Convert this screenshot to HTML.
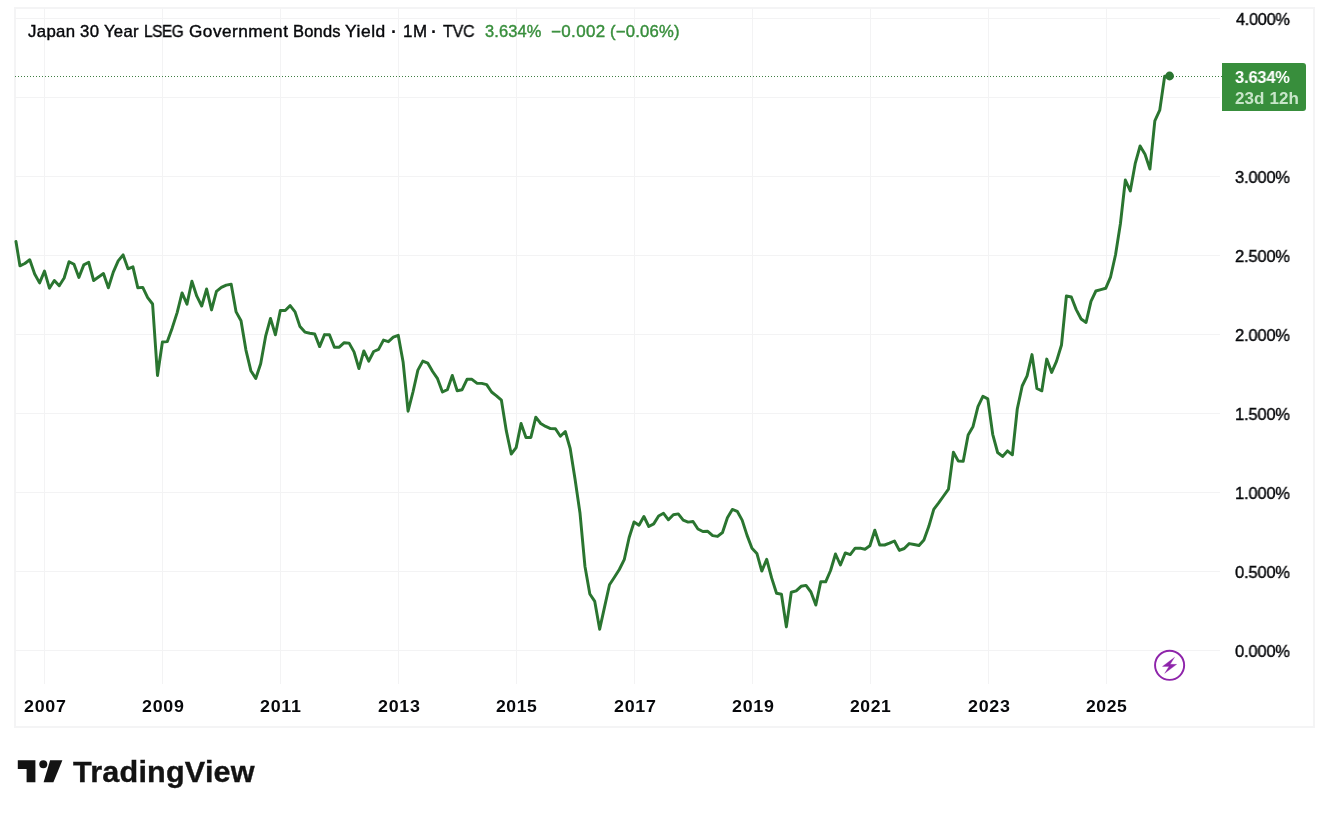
<!DOCTYPE html>
<html><head><meta charset="utf-8"><title>Japan 30 Year LSEG Government Bonds Yield</title>
<style>
html,body{margin:0;padding:0;background:#fff;}
body{width:1329px;height:817px;position:relative;overflow:hidden;font-family:"Liberation Sans",sans-serif;color:#131722;}
#frame{position:absolute;left:14px;top:7px;width:1297px;height:717px;border:2px solid #f4f4f5;}
svg{position:absolute;left:0;top:0;}
.t{position:absolute;white-space:nowrap;transform-origin:0 0;will-change:transform;}
#tag{position:absolute;left:1222px;top:63px;width:84px;height:48px;background:#388e3c;border-radius:0 3px 3px 0;}
</style></head><body>
<div id="frame"></div>
<svg width="1329" height="817" viewBox="0 0 1329 817">
<g stroke="#f3f3f4" stroke-width="1" shape-rendering="crispEdges"><line x1="44.5" y1="8" x2="44.5" y2="684"/><line x1="162.5" y1="8" x2="162.5" y2="684"/><line x1="280.5" y1="8" x2="280.5" y2="684"/><line x1="398.5" y1="8" x2="398.5" y2="684"/><line x1="516.5" y1="8" x2="516.5" y2="684"/><line x1="634.5" y1="8" x2="634.5" y2="684"/><line x1="752.5" y1="8" x2="752.5" y2="684"/><line x1="870.5" y1="8" x2="870.5" y2="684"/><line x1="988.5" y1="8" x2="988.5" y2="684"/><line x1="1106.5" y1="8" x2="1106.5" y2="684"/><line x1="15" y1="650.5" x2="1220" y2="650.5"/><line x1="15" y1="571.5" x2="1220" y2="571.5"/><line x1="15" y1="492.5" x2="1220" y2="492.5"/><line x1="15" y1="413.5" x2="1220" y2="413.5"/><line x1="15" y1="334.5" x2="1220" y2="334.5"/><line x1="15" y1="255.5" x2="1220" y2="255.5"/><line x1="15" y1="176.5" x2="1220" y2="176.5"/><line x1="15" y1="97.5" x2="1220" y2="97.5"/><line x1="15" y1="18.5" x2="1220" y2="18.5"/></g>
<line x1="15" y1="76.5" x2="1222" y2="76.5" stroke="#3f7f43" stroke-width="1" stroke-dasharray="1 2" shape-rendering="crispEdges"/>
<polyline fill="none" stroke="#2a7530" stroke-width="2.95" stroke-linejoin="round" stroke-linecap="round" points="15.95,241.4 19.93,265.8 24.85,263.5 29.76,259.8 34.67,274 39.59,282.9 44.5,271.1 49.41,288.2 54.33,280.5 59.24,285.8 64.15,278 69.06,261.7 73.98,264.3 78.89,277.4 83.8,264.9 88.72,262.3 93.63,280.5 98.54,277 103.46,273.5 108.37,287.8 113.28,272.1 118.2,260.9 123.11,254.9 128.02,268.8 132.93,266.8 137.85,287.8 142.76,287.4 147.67,297.6 152.59,304 157.5,375.5 162.41,342 167.32,341.6 172.24,327.9 177.15,312.6 182.06,292.9 186.98,304.1 191.89,281.2 196.8,296.2 201.72,306 206.63,289 211.54,309.9 216.46,291.3 221.37,287.4 226.28,285.1 231.19,284.3 236.11,311.9 241.02,320.7 245.93,350.1 250.85,370.7 255.76,378.5 260.67,363.8 265.59,336.4 270.5,318.4 275.41,334.8 280.32,310.5 285.24,310.5 290.15,305.6 295.06,311.9 299.98,326.6 304.89,332.1 309.8,333.2 314.72,334 319.63,346.6 324.54,334.6 329.45,334.7 334.37,347.2 339.28,347.2 344.19,342.7 349.11,343.1 354.02,351.9 358.93,368.5 363.85,350.9 368.76,361.1 373.67,351.5 378.58,349.4 383.5,340.1 388.41,341.7 393.32,337.2 398.24,335.3 403.15,362.3 408.06,411.2 412.98,392 417.89,370.1 422.8,361.1 427.71,363.1 432.63,371.5 437.54,378.7 442.45,392 447.37,389.7 452.28,375.4 457.19,390.7 462.11,389.7 467.02,379.3 471.93,379.3 476.84,383.2 481.76,383.4 486.67,384.6 491.58,392 496.5,395.8 501.41,400.2 506.32,430.9 511.24,454 516.15,447.6 521.06,423.5 525.97,437.4 530.89,437.4 535.8,417.2 540.71,423.5 545.63,426.4 550.54,428.6 555.45,428.8 560.37,436.2 565.28,431.5 570.19,448.5 575.1,479.4 580.02,513.3 584.93,566.2 589.84,594 594.76,601.4 599.67,629.2 604.58,606.9 609.5,584.8 614.41,577.3 619.32,569.5 624.23,559.7 629.15,537.5 634.06,522 638.97,525.2 643.89,516.5 648.8,526.5 653.71,523.9 658.62,516 663.54,513.3 668.45,519.8 673.36,514.7 678.28,513.9 683.19,520.1 688.1,522.1 693.02,521.5 697.93,529 702.84,531.5 707.75,531.3 712.67,535.6 717.58,536.4 722.49,532.5 727.41,517.7 732.32,509.4 737.23,511.3 742.15,520.1 747.06,535.4 751.97,548.2 756.88,553.4 761.8,571.1 766.71,559.3 771.62,577.9 776.54,593.2 781.45,594.2 786.36,626.9 791.28,592.2 796.19,590.9 801.1,586.3 806.01,585.4 810.93,592 815.84,605 820.75,581.8 825.67,581.8 830.58,570.5 835.49,554 840.41,565 845.32,552.9 850.23,554.6 855.15,548.2 860.06,548.1 864.97,549.3 869.88,545.8 874.8,530.2 879.71,545 884.62,545 889.54,543.2 894.45,541 899.36,550.4 904.28,548.5 909.19,543.6 914.1,544.5 919.01,545.5 923.93,540 928.84,526.3 933.75,509.3 938.67,502.8 943.58,496 948.49,489.1 953.41,452.3 958.32,461.1 963.23,461.3 968.14,434.9 973.06,426.4 977.97,406.7 982.88,396.3 987.8,398.9 992.71,434.3 997.62,452.5 1002.54,456.4 1007.45,450.9 1012.36,454.8 1017.27,409 1022.19,386 1027.1,375.8 1032.01,354.6 1036.93,388.5 1041.84,390.8 1046.75,359.1 1051.66,372.4 1056.58,361.1 1061.49,345 1066.4,296 1071.32,297 1076.23,309.6 1081.14,319 1086.06,322.5 1090.97,301.3 1095.88,291 1100.8,289.6 1105.71,288.3 1110.62,276.8 1115.53,254.7 1120.45,223.5 1125.36,180 1130.27,190.9 1135.19,163.7 1140.1,146 1145.01,154.2 1149.92,169 1154.84,120.8 1159.75,110.2 1164.66,76.2 1169.58,76.5"/>
<circle cx="1169.58" cy="76.0" r="4.4" fill="#2a7530"/>
<circle cx="1169.6" cy="665.3" r="14.55" fill="#fff" stroke="#8e24aa" stroke-width="1.95"/>
<polygon fill="#8e24aa" stroke="#8e24aa" stroke-width="0.3" stroke-linejoin="round" points="1174.56,657.32 1162.44,666.44 1168.99,666.44 1164.71,673.35 1176.7,664.36 1170.21,664.36"/>
<g fill="#131313"><polygon points="17.8,760.3 35.4,760.3 35.4,782.2 26.6,782.2 26.6,768.9 17.8,768.9"/><circle cx="43.3" cy="764.2" r="4"/><polygon points="50.1,760.3 62.4,760.3 53.4,782.2 43.6,782.2"/></g>
</svg>
<div id="tag"></div>
<div class="t" style="left:27.60px;top:21.00px;font-size:16.2px;line-height:20px;letter-spacing:0.315px;transform:scaleX(1.0371);color:#07080b;-webkit-text-stroke:0.4px #07080b;">Japan</div>
<div class="t" style="left:79.67px;top:21.00px;font-size:16.2px;line-height:20px;letter-spacing:0.435px;transform:scaleX(1.0344);color:#07080b;-webkit-text-stroke:0.4px #07080b;">30</div>
<div class="t" style="left:104.47px;top:21.00px;font-size:16.2px;line-height:20px;letter-spacing:0.248px;transform:scaleX(1.0302);color:#07080b;-webkit-text-stroke:0.4px #07080b;">Year</div>
<div class="t" style="left:144.35px;top:21.00px;font-size:16.2px;line-height:20px;letter-spacing:-0.534px;transform:scaleX(0.9544);color:#07080b;-webkit-text-stroke:0.4px #07080b;">LSEG</div>
<div class="t" style="left:188.64px;top:21.00px;font-size:16.2px;line-height:20px;letter-spacing:0.462px;transform:scaleX(1.0612);color:#07080b;-webkit-text-stroke:0.4px #07080b;">Government</div>
<div class="t" style="left:293.28px;top:21.00px;font-size:16.2px;line-height:20px;letter-spacing:0.176px;transform:scaleX(1.0200);color:#07080b;-webkit-text-stroke:0.4px #07080b;">Bonds</div>
<div class="t" style="left:345.12px;top:21.00px;font-size:16.2px;line-height:20px;letter-spacing:0.501px;transform:scaleX(1.0776);color:#07080b;-webkit-text-stroke:0.4px #07080b;">Yield</div>
<div class="t" style="left:402.86px;top:21.00px;font-size:16.2px;line-height:20px;letter-spacing:0.690px;transform:scaleX(1.0440);color:#07080b;-webkit-text-stroke:0.4px #07080b;">1M</div>
<div class="t" style="left:442.90px;top:21.00px;font-size:16.2px;line-height:20px;letter-spacing:-0.183px;transform:scaleX(0.9862);color:#07080b;-webkit-text-stroke:0.4px #07080b;">TVC</div>
<div class="t" style="left:484.78px;top:21.00px;font-size:16.2px;line-height:20px;letter-spacing:0.133px;transform:scaleX(1.0156);color:#388e3c;-webkit-text-stroke:0.4px #388e3c;">3.634%</div>
<div class="t" style="left:550.95px;top:21.00px;font-size:16.2px;line-height:20px;letter-spacing:0.352px;transform:scaleX(1.0470);color:#388e3c;-webkit-text-stroke:0.4px #388e3c;">−0.002</div>
<div class="t" style="left:610.37px;top:21.00px;font-size:16.2px;line-height:20px;letter-spacing:0.212px;transform:scaleX(1.0292);color:#388e3c;-webkit-text-stroke:0.4px #388e3c;">(−0.06%)</div>
<div class="t" style="left:24.02px;top:697.00px;font-size:16.6px;line-height:20px;letter-spacing:0.670px;transform:scaleX(1.0754);color:#07080b;font-weight:bold;">2007</div>
<div class="t" style="left:142.01px;top:697.00px;font-size:16.6px;line-height:20px;letter-spacing:0.670px;transform:scaleX(1.0754);color:#07080b;font-weight:bold;">2009</div>
<div class="t" style="left:260.00px;top:697.00px;font-size:16.6px;line-height:20px;letter-spacing:0.670px;transform:scaleX(1.0754);color:#07080b;font-weight:bold;">2011</div>
<div class="t" style="left:377.99px;top:697.00px;font-size:16.6px;line-height:20px;letter-spacing:0.670px;transform:scaleX(1.0754);color:#07080b;font-weight:bold;">2013</div>
<div class="t" style="left:496.00px;top:697.00px;font-size:16.6px;line-height:20px;letter-spacing:0.539px;transform:scaleX(1.0581);color:#07080b;font-weight:bold;">2015</div>
<div class="t" style="left:613.97px;top:697.00px;font-size:16.6px;line-height:20px;letter-spacing:0.670px;transform:scaleX(1.0754);color:#07080b;font-weight:bold;">2017</div>
<div class="t" style="left:731.96px;top:697.00px;font-size:16.6px;line-height:20px;letter-spacing:0.670px;transform:scaleX(1.0754);color:#07080b;font-weight:bold;">2019</div>
<div class="t" style="left:849.97px;top:697.00px;font-size:16.6px;line-height:20px;letter-spacing:0.539px;transform:scaleX(1.0581);color:#07080b;font-weight:bold;">2021</div>
<div class="t" style="left:967.94px;top:697.00px;font-size:16.6px;line-height:20px;letter-spacing:0.670px;transform:scaleX(1.0754);color:#07080b;font-weight:bold;">2023</div>
<div class="t" style="left:1085.95px;top:697.00px;font-size:16.6px;line-height:20px;letter-spacing:0.539px;transform:scaleX(1.0581);color:#07080b;font-weight:bold;">2025</div>
<div class="t" style="left:1234.83px;top:642.00px;font-size:17px;line-height:20px;letter-spacing:-0.240px;transform:scaleX(0.9745);color:#07080b;-webkit-text-stroke:0.4px #07080b;">0.000%</div>
<div class="t" style="left:1234.83px;top:563.00px;font-size:17px;line-height:20px;letter-spacing:-0.240px;transform:scaleX(0.9745);color:#07080b;-webkit-text-stroke:0.4px #07080b;">0.500%</div>
<div class="t" style="left:1234.83px;top:484.00px;font-size:17px;line-height:20px;letter-spacing:-0.240px;transform:scaleX(0.9745);color:#07080b;-webkit-text-stroke:0.4px #07080b;">1.000%</div>
<div class="t" style="left:1234.83px;top:405.00px;font-size:17px;line-height:20px;letter-spacing:-0.240px;transform:scaleX(0.9745);color:#07080b;-webkit-text-stroke:0.4px #07080b;">1.500%</div>
<div class="t" style="left:1234.83px;top:326.00px;font-size:17px;line-height:20px;letter-spacing:-0.240px;transform:scaleX(0.9745);color:#07080b;-webkit-text-stroke:0.4px #07080b;">2.000%</div>
<div class="t" style="left:1234.83px;top:247.00px;font-size:17px;line-height:20px;letter-spacing:-0.240px;transform:scaleX(0.9745);color:#07080b;-webkit-text-stroke:0.4px #07080b;">2.500%</div>
<div class="t" style="left:1234.83px;top:168.00px;font-size:17px;line-height:20px;letter-spacing:-0.240px;transform:scaleX(0.9745);color:#07080b;-webkit-text-stroke:0.4px #07080b;">3.000%</div>
<div class="t" style="left:1235.80px;top:10.00px;font-size:17px;line-height:20px;letter-spacing:-0.336px;transform:scaleX(0.9653);color:#07080b;-webkit-text-stroke:0.4px #07080b;">4.000%</div>
<div class="t" style="left:1234.82px;top:68.00px;font-size:16.8px;line-height:20px;letter-spacing:-0.184px;transform:scaleX(0.9804);color:#ffffff;font-weight:bold;">3.634%</div>
<div class="t" style="left:1235.09px;top:89.00px;font-size:16.8px;line-height:20px;letter-spacing:0.104px;transform:scaleX(1.0126);color:#c8e6c9;font-weight:bold;">23d 12h</div>
<div class="t" style="left:73.40px;top:752.00px;font-size:30.2px;line-height:40px;letter-spacing:0.191px;transform:scaleX(1.0134);color:#131313;font-weight:bold;-webkit-text-stroke:0.35px #131313;">TradingView</div>
<div class="t" style="left:391.2px;top:22.0px;font-size:18px;line-height:20px;font-weight:bold;color:#07080b">·</div>
<div class="t" style="left:431.2px;top:22.0px;font-size:18px;line-height:20px;font-weight:bold;color:#07080b">·</div>
</body></html>
